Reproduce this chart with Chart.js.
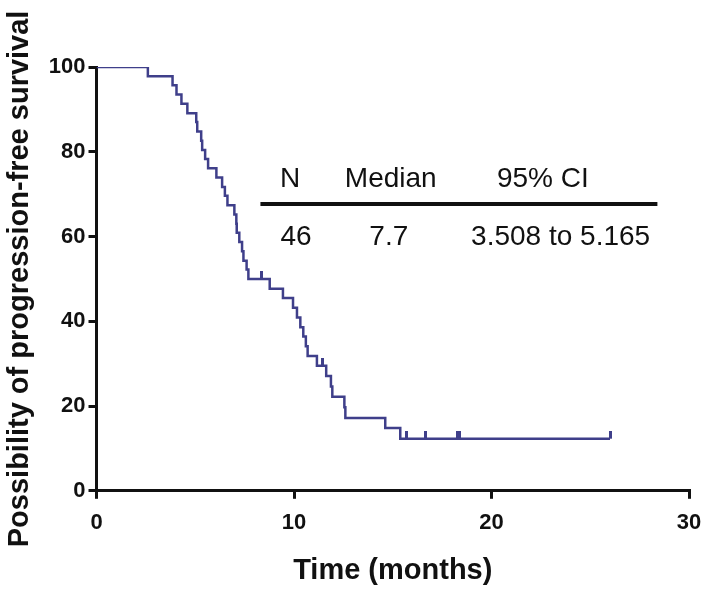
<!DOCTYPE html>
<html>
<head>
<meta charset="utf-8">
<script src="https://cdn.jsdelivr.net/npm/chart.js@4.4.1/dist/chart.umd.min.js"></script>
<style>
  html, body { margin: 0; padding: 0; background: #fff; }
</style>
</head>
<body>
<canvas id="chart" width="709" height="590"></canvas>
<script>
// Kaplan-Meier curve, values
var times = [0, 2.6, 3.85, 4.05, 4.3, 4.6, 5.05, 5.1, 5.3, 5.35, 5.5, 5.65, 6.07, 6.36, 6.5, 6.63,
  6.98, 7.08, 7.1, 7.23, 7.37, 7.44, 7.6, 7.69, 8.77, 9.44, 9.95, 10.15, 10.32, 10.47, 10.6, 10.69,
  11.16, 11.63, 11.87, 11.94, 12.55, 12.6, 14.62, 15.38, 26.0];
var survival = [100, 97.8, 95.7, 93.5, 91.3, 89.1, 87.0, 84.8, 82.6, 80.4, 78.3, 76.1, 73.9, 71.7, 69.6, 67.4,
  65.2, 63.0, 60.9, 58.7, 56.5, 54.3, 52.2, 50.0, 47.7, 45.5, 43.2, 40.9, 38.6, 36.4, 34.1, 31.8,
  29.5, 27.1, 24.6, 22.2, 19.7, 17.2, 14.8, 12.3, 12.3];

var censorTimes = [8.33, 11.43, 15.7, 16.64, 18.27, 18.4, 26.0];
var censorValues = [50.0, 29.5, 12.3, 12.3, 12.3, 12.3, 12.3];

var xTicks = [0, 10, 20, 30];
var yTicks = [0, 20, 40, 60, 80, 100];

var tableHead = ["N", "Median", "95% CI"];
var tableRow = ["46", "7.7", "3.508 to 5.165"];

var lineColor = '#3f3f8a';

var curve = [];
for (let i = 0; i < times.length; i++) {
  curve.push({x: times[i], y: survival[i]});
}
var censored = [];
for (let i = 0; i < censorTimes.length; i++) {
  censored.push({x: censorTimes[i], y: censorValues[i]});
}

// censor mark: short tick pointing up from the line
var tick = document.createElement('canvas');
tick.width = 3;
tick.height = 16;
var tctx = tick.getContext('2d');
tctx.fillStyle = lineColor;
tctx.fillRect(0, 0, 3, 8);

var tablePlugin = {
  id: 'table',
  afterDatasetsDraw(chart) {
    var c = chart.ctx;
    var xs = chart.scales.x, ys = chart.scales.y;
    c.save();
    c.fillStyle = '#111';
    c.font = '28px "Liberation Sans", Arial, sans-serif';
    c.textAlign = 'center';
    c.textBaseline = 'middle';
    var headX = [9.8, 14.9, 22.6];
    var rowX = [10.1, 14.8, 23.5];
    for (let i = 0; i < tableHead.length; i++) {
      c.fillText(tableHead[i], xs.getPixelForValue(headX[i]), ys.getPixelForValue(73.6));
      c.fillText(tableRow[i], xs.getPixelForValue(rowX[i]), ys.getPixelForValue(59.9));
    }
    c.strokeStyle = '#111';
    c.lineWidth = 4;
    c.beginPath();
    c.moveTo(xs.getPixelForValue(8.3), ys.getPixelForValue(67.7));
    c.lineTo(xs.getPixelForValue(28.4), ys.getPixelForValue(67.7));
    c.stroke();
    c.restore();
  }
};

var ctx = document.getElementById('chart').getContext('2d');
var myChart = new Chart(ctx, {
  type: 'scatter',
  data: {
    datasets: [{
      label: 'PFS',
      data: curve,
      showLine: true,
      stepped: 'before',
      borderColor: lineColor,
      borderWidth: 2.5,
      pointRadius: 0,
      fill: false
    }, {
      label: 'Censored',
      data: censored,
      pointStyle: tick,
      pointRadius: 8,
      showLine: false
    }]
  },
  options: {
    responsive: false,
    animation: false,
    layout: {padding: {top: 67, right: 20, bottom: 2, left: 3}},
    plugins: {
      legend: {display: false},
      tooltip: {enabled: false}
    },
    scales: {
      x: {
        type: 'linear',
        min: 0,
        max: 30,
        afterBuildTicks: function(axis) { axis.ticks = xTicks.map(v => ({value: v})); },
        afterFit: function(axis) { axis.paddingRight = 0; },
        grid: {drawOnChartArea: false, drawTicks: true, tickLength: 8, color: '#111', lineWidth: 3},
        border: {display: true, color: '#111', width: 3},
        ticks: {color: '#111', padding: 11, font: {family: '"Liberation Sans", Arial', size: 22, weight: 'bold'}},
        title: {display: true, text: 'Time (months)', color: '#111', padding: {top: 6, bottom: 0},
          font: {family: '"Liberation Sans", Arial', size: 29, weight: 'bold'}}
      },
      y: {
        type: 'linear',
        min: 0,
        max: 100,
        afterBuildTicks: function(axis) { axis.ticks = yTicks.map(v => ({value: v})); },
        grid: {drawOnChartArea: false, drawTicks: true, tickLength: 8, color: '#111', lineWidth: 3},
        border: {display: true, color: '#111', width: 3},
        ticks: {color: '#111', padding: 3, font: {family: '"Liberation Sans", Arial', size: 22, weight: 'bold'}},
        title: {display: true, text: 'Possibility of progression-free survival', color: '#111', padding: {top: 0, bottom: 8},
          font: {family: '"Liberation Sans", Arial', size: 29, weight: 'bold'}}
      }
    }
  },
  plugins: [tablePlugin]
});
</script>
</body>
</html>
